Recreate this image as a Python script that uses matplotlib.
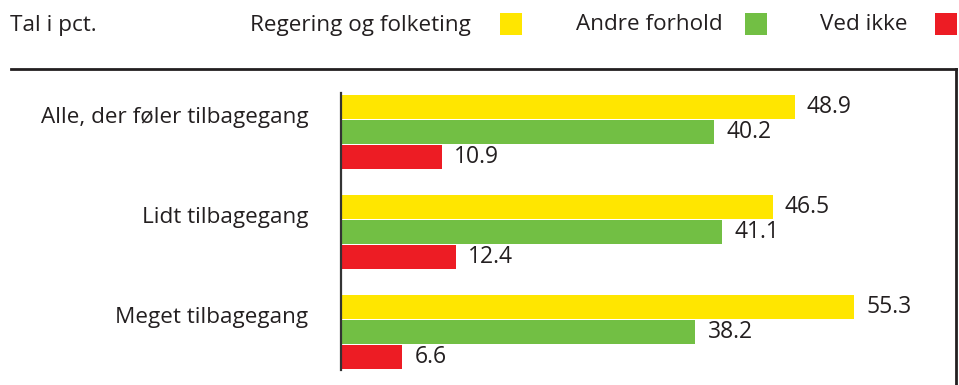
import matplotlib
matplotlib.use("Agg")
import matplotlib.pyplot as plt
from matplotlib.patches import Rectangle
from matplotlib.lines import Line2D

plt.rcParams['font.family'] = ['Open Sans', 'DejaVu Sans']

categories = ["Alle, der føler tilbagegang", "Lidt tilbagegang", "Meget tilbagegang"]
series_names = ["Regering og folketing", "Andre forhold", "Ved ikke"]
regering = [48.9, 46.5, 55.3]
andre = [40.2, 41.1, 38.2]
ved_ikke = [10.9, 12.4, 6.6]
colors = ["#FFE600", "#72BF44", "#ED1C24"]
text_color = "#231F20"

W, H = 959, 385
fig = plt.figure(figsize=(W / 100, H / 100), dpi=100)

def fx(x):
    return x / W

def fy(y):
    return 1 - y / H

# plot area: value axis at x=341, right frame at x=955
ax = fig.add_axes([fx(341), fy(370), fx(955) - fx(341), fy(93) - fy(370)])
px_per_unit = 9.28
ax.set_xlim(0, (955 - 341) / px_per_unit)
ax.set_ylim(2.38, -0.39)

bar_h = 0.245
offsets = [-0.25, 0.0, 0.25]
for vals, off, col in zip([regering, andre, ved_ikke], offsets, colors):
    ys = [i + off for i in range(len(categories))]
    ax.barh(ys, vals, height=bar_h, color=col, edgecolor='none')
    for y, v in zip(ys, vals):
        ax.text(v + 1.3, y, f"{v:.1f}", va='center', ha='left',
                fontsize=16.5, color=text_color)

for i, cat in enumerate(categories):
    ax.text(-3.5, i - 0.14, cat, va='center', ha='right', fontsize=16.2,
            color=text_color, clip_on=False)

ax.set_xticks([])
ax.set_yticks([])
for s in ['top', 'right', 'bottom']:
    ax.spines[s].set_visible(False)
ax.spines['left'].set_color('#333333')
ax.spines['left'].set_linewidth(1.6)

# frame: top rule and right edge
fig.add_artist(Line2D([fx(11), fx(956)], [fy(69), fy(69)], color='#231F20', lw=2.0))
fig.add_artist(Line2D([fx(955.5), fx(955.5)], [fy(69), fy(385)], color='#231F20', lw=2.0))

# header and legend
fig.text(fx(10), fy(25), "Tal i pct.", fontsize=16.2, color=text_color, va='center', ha='left')
legend_text_x = [250, 576, 820]
legend_box_x = [500, 745, 935]
for name, tx, bx, col in zip(series_names, legend_text_x, legend_box_x, colors):
    fig.text(fx(tx), fy(25), name, fontsize=16.2, color=text_color, va='center', ha='left')
    fig.add_artist(Rectangle((fx(bx), fy(35)), fx(22), fy(13) - fy(35),
                             transform=fig.transFigure, facecolor=col, edgecolor='none'))

fig.savefig("out.png", dpi=100)
